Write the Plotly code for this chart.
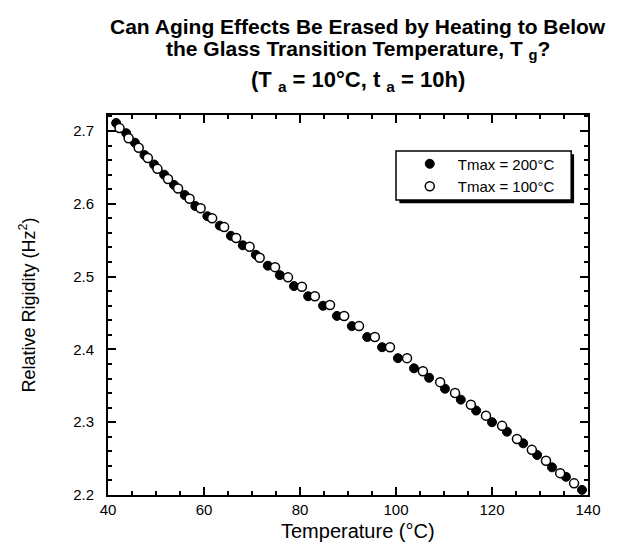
import plotly.graph_objects as go

# Tmax = 200°C (filled circles)
temp_200 = [41.7, 43.8, 45.6, 47.6, 49.6, 51.7, 53.75, 56.0, 58.2, 60.7, 63.3, 65.6, 68.1, 70.8,
            73.3, 75.8, 78.75, 81.7, 84.8, 87.7, 90.8, 94.0, 97.1, 100.4, 103.75, 106.9, 110.2,
            113.5, 116.7, 120.0, 123.1, 126.5, 129.4, 132.5, 135.4, 138.75]
rig_200 = [2.711, 2.697, 2.684, 2.667, 2.654, 2.640, 2.626, 2.612, 2.597, 2.583, 2.570, 2.556, 2.543, 2.530,
           2.515, 2.502, 2.487, 2.473, 2.460, 2.446, 2.432, 2.417, 2.403, 2.388, 2.374, 2.361, 2.346,
           2.331, 2.316, 2.300, 2.287, 2.271, 2.255, 2.238, 2.225, 2.207]

# Tmax = 100°C (open circles)
temp_100 = [42.4, 44.3, 46.4, 48.3, 50.3, 52.5, 54.6, 57.0, 59.3, 61.7, 64.2, 66.7, 69.5, 71.6,
            74.8, 77.5, 80.4, 83.1, 86.25, 89.2, 92.3, 95.6, 98.75, 102.3, 105.6, 109.2, 112.3,
            115.6, 118.75, 122.1, 125.2, 128.3, 131.25, 134.2, 137.1]
rig_100 = [2.704, 2.690, 2.677, 2.663, 2.648, 2.634, 2.621, 2.607, 2.594, 2.580, 2.568, 2.553, 2.541, 2.526,
           2.513, 2.499, 2.486, 2.473, 2.461, 2.446, 2.432, 2.417, 2.403, 2.388, 2.370, 2.355, 2.340,
           2.324, 2.309, 2.295, 2.277, 2.262, 2.247, 2.230, 2.216]

x_ticks = [40, 60, 80, 100, 120, 140]
y_ticks = [2.2, 2.3, 2.4, 2.5, 2.6, 2.7]

FONT = "Liberation Sans, Arial, Helvetica, sans-serif"

fig = go.Figure()
fig.add_trace(go.Scatter(
    x=temp_200, y=rig_200, mode="markers", name="Tmax = 200°C",
    marker=dict(symbol="circle", size=9, color="black", line=dict(color="black", width=1)),
    cliponaxis=False,
))
fig.add_trace(go.Scatter(
    x=temp_100, y=rig_100, mode="markers", name="Tmax = 100°C",
    marker=dict(symbol="circle", size=9, color="white", line=dict(color="black", width=1.5)),
    cliponaxis=False,
))

axis_common = dict(
    showline=True, linecolor="black", linewidth=2, mirror="allticks",
    ticks="inside", ticklen=8, tickwidth=1.5, tickcolor="black",
    showgrid=False, zeroline=False,
    tickfont=dict(family=FONT, size=15, color="black"),
)

fig.update_xaxes(
    range=[40, 140], tickvals=x_ticks, ticktext=[str(v) for v in x_ticks],
    minor=dict(dtick=5, tick0=40, ticklen=4, tickwidth=1.5, tickcolor="black", ticks="inside"),
    **axis_common,
)
fig.update_yaxes(
    range=[2.2, 2.722], tickvals=y_ticks, ticktext=[f"{v:.1f}" for v in y_ticks],
    minor=dict(dtick=0.02, tick0=2.2, ticklen=4, tickwidth=1.5, tickcolor="black", ticks="inside"),
    ticklabelstandoff=9,
    title=dict(text="Relative Rigidity (Hz<sup>2</sup>)", font=dict(family=FONT, size=18, color="black"), standoff=33),
    **axis_common,
)

TX = 0.52
# x-axis title
fig.add_annotation(text="Temperature (°C)", xref="paper", yref="paper", x=TX, y=0, yshift=-36,
                   showarrow=False, font=dict(family=FONT, size=20, color="black"),
                   xanchor="center", yanchor="middle")

title_font = dict(family=FONT, size=21, color="black")
fig.add_annotation(text="<b>Can Aging Effects Be Erased by Heating to Below</b>",
                   xref="paper", yref="paper", x=TX, y=1.0, yshift=89,
                   showarrow=False, font=title_font, xanchor="center", yanchor="middle")
fig.add_annotation(text="<b>the Glass Transition Temperature, T <sub>g</sub>?</b>",
                   xref="paper", yref="paper", x=TX, y=1.0, yshift=65,
                   showarrow=False, font=title_font, xanchor="center", yanchor="middle")
fig.add_annotation(text="<b>(T <sub>a</sub> = 10°C, t <sub>a</sub> = 10h)</b>",
                   xref="paper", yref="paper", x=TX, y=1.0, yshift=34,
                   showarrow=False, font=dict(family=FONT, size=22, color="black"),
                   xanchor="center", yanchor="middle")

# legend frame with drop shadow
fig.add_shape(type="rect", xref="paper", yref="paper",
              x0=0.607, x1=0.971, y0=0.768, y1=0.897,
              fillcolor="black", line=dict(width=0), layer="above")
fig.add_shape(type="rect", xref="paper", yref="paper",
              x0=0.600, x1=0.965, y0=0.776, y1=0.905,
              fillcolor="white", line=dict(color="black", width=1.5), layer="above")

fig.update_layout(
    width=617, height=546,
    margin=dict(l=100, r=37, t=107, b=59),
    paper_bgcolor="white", plot_bgcolor="white",
    showlegend=True,
    legend=dict(
        x=0.612, y=0.842, xanchor="left", yanchor="middle",
        bgcolor="rgba(0,0,0,0)", borderwidth=0,
        font=dict(family=FONT, size=15, color="black"),
        tracegroupgap=0, itemsizing="trace", itemwidth=46,
    ),
    font=dict(family=FONT, color="black"),
)

fig.write_html("out.html")
